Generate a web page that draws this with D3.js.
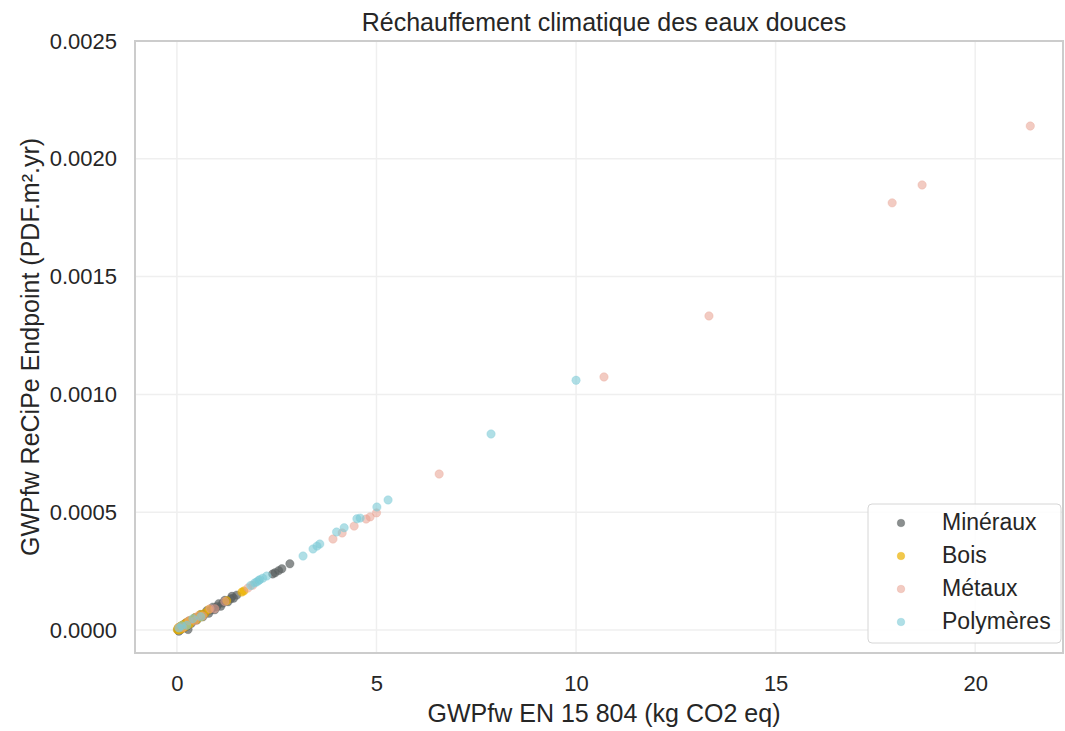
<!DOCTYPE html>
<html><head><meta charset="utf-8">
<script src="https://cdn.jsdelivr.net/npm/d3@7"></script>
<style>body{margin:0;background:#fff;} svg{display:block;font-family:"Liberation Sans",Arial,sans-serif;}</style>
</head><body>
<svg id="c" width="1065" height="731"></svg>
<script>
const categories = ["Minéraux","Bois","Métaux","Polymères"];
const xTicks = [0,5,10,15,20];
const yTicks = [0,0.0005,0.001,0.0015,0.002,0.0025];
const mineraux = [[0.02,0.0000015],[0.04,0.000006],[0.05,-0.000005],[0.07,0.000006],[0.08,0.000014],[0.10,0.0000015],[0.12,0.000011],[0.15,0.000021],[0.18,0.000009],[0.20,0.000019],[0.22,0.000030],[0.25,0.000016],[0.28,0.000002],[0.28,0.000027],[0.30,0.000038],[0.36,0.000028],[0.40,0.000039],[0.45,0.000052],[0.50,0.000042],[0.55,0.000055],[0.60,0.000066],[0.65,0.000056],[0.70,0.000069],[0.75,0.000082],[0.80,0.000071],[0.85,0.000085],[0.90,0.000097],[0.95,0.000086],[1.00,0.000099],[1.05,0.000112],[1.10,0.000101],[1.15,0.000114],[1.20,0.000126],[1.28,0.000120],[1.35,0.000133],[1.38,0.000143],[1.42,0.000135],[1.50,0.000148],[2.40,0.000238],[2.46,0.000243],[2.55,0.000252],[2.63,0.000260],[2.83,0.000281]];
const bois = [[0.01,0.000001],[0.03,0.000010],[0.05,0.000000],[0.08,0.000014],[0.10,0.000003],[0.12,0.000019],[0.15,0.000008],[0.18,0.000024],[0.20,0.000013],[0.22,0.000023],[0.25,0.000033],[0.28,0.000022],[0.30,0.000036],[0.33,0.000028],[0.35,0.000042],[0.40,0.000041],[0.45,0.000052],[0.50,0.000044],[0.58,0.000065],[0.62,0.000056],[0.70,0.000071],[0.80,0.000087],[1.25,0.000124],[1.63,0.000161],[1.68,0.000166]];
const metaux = [[0.05,0.000011],[0.15,0.000010],[0.30,0.000039],[0.45,0.000039],[0.53,0.000060],[0.65,0.000060],[0.83,0.000090],[0.95,0.000090],[1.20,0.000121],[1.78,0.000178],[1.90,0.000190],[3.91,0.000386],[4.14,0.000412],[4.44,0.000441],[4.74,0.000471],[4.84,0.000480],[5.00,0.000497],[6.57,0.000662],[10.70,0.001074],[13.33,0.001333],[17.92,0.001813],[18.67,0.001889],[21.38,0.002139]];
const polymeres = [[0.05,0.000008],[0.12,0.000018],[0.25,0.000020],[0.40,0.000048],[0.60,0.000056],[1.85,0.000189],[1.95,0.000200],[2.00,0.000204],[2.05,0.000210],[2.08,0.000214],[2.15,0.000220],[2.25,0.000229],[3.16,0.000314],[3.41,0.000344],[3.51,0.000356],[3.58,0.000365],[4.00,0.000416],[4.19,0.000434],[4.51,0.000472],[4.59,0.000475],[5.01,0.000522],[5.29,0.000552],[7.87,0.000832],[10.00,0.001060]];
const seriesData = [mineraux, bois, metaux, polymeres];
const colors = ["#5a5f5f","#ebb000","#e8a090","#7ccad6"];
const opac = [0.7,0.7,0.55,0.6];

const svg = d3.select("#c");
const L=135, R=1063, T=41, B=653;
const x = d3.scaleLinear().domain([-1.05,22.2]).range([L,R]);
const y = d3.scaleLinear().domain([-0.0000976,0.0025]).range([B,T]);
const FONT = "Liberation Sans, Arial, sans-serif";

// grid
svg.append("g").selectAll("line").data(xTicks).join("line")
  .attr("x1",d=>x(d)).attr("x2",d=>x(d)).attr("y1",T).attr("y2",B)
  .attr("stroke","#efefef").attr("stroke-width",1.5);
svg.append("g").selectAll("line").data(yTicks).join("line")
  .attr("y1",d=>y(d)).attr("y2",d=>y(d)).attr("x1",L).attr("x2",R)
  .attr("stroke","#efefef").attr("stroke-width",1.5);

// axes (labels only)
const xa = svg.append("g").attr("transform",`translate(0,${B})`)
  .call(d3.axisBottom(x).tickValues(xTicks).tickSize(0).tickPadding(22).tickFormat(d3.format("d")));
xa.select(".domain").remove();
xa.selectAll("text").attr("font-size",22).attr("fill","#262626").attr("font-family",FONT);
const ya = svg.append("g").attr("transform",`translate(${L},0)`)
  .call(d3.axisLeft(y).tickValues(yTicks).tickSize(0).tickPadding(18).tickFormat(d3.format(".4f")));
ya.select(".domain").remove();
ya.selectAll("text").attr("font-size",22).attr("fill","#262626").attr("font-family",FONT);

// points
seriesData.forEach((s,i)=>{
  svg.append("g").selectAll("circle").data(s).join("circle")
    .attr("cx",d=>x(d[0])).attr("cy",d=>y(d[1])).attr("r",4.2)
    .attr("fill",colors[i]).attr("fill-opacity",opac[i])
    .attr("stroke",colors[i]).attr("stroke-opacity",0.3).attr("stroke-width",1);
});

// spines
svg.append("rect").attr("x",L).attr("y",T).attr("width",R-L).attr("height",B-T)
  .attr("fill","none").attr("stroke","#cccccc").attr("stroke-width",2);

// title and labels
svg.append("text").attr("x",604).attr("y",31).attr("text-anchor","middle")
  .attr("font-size",25).attr("fill","#262626").text("Réchauffement climatique des eaux douces");
svg.append("text").attr("x",604).attr("y",722).attr("text-anchor","middle")
  .attr("font-size",25).attr("fill","#262626").text("GWPfw EN 15 804 (kg CO2 eq)");
svg.append("text").attr("transform",`translate(39,${(T+B)/2}) rotate(-90)`).attr("text-anchor","middle")
  .attr("font-size",25).attr("fill","#262626").text("GWPfw ReCiPe Endpoint (PDF.m².yr)");

// legend
const lg = svg.append("g");
lg.append("rect").attr("x",868).attr("y",504).attr("width",193).attr("height",139).attr("rx",4)
  .attr("fill","#fff").attr("fill-opacity",0.85).attr("stroke","#d6d6d6").attr("stroke-width",1);
categories.forEach((c,i)=>{
  const yy = 522 + i*33;
  lg.append("circle").attr("cx",901).attr("cy",yy+1).attr("r",3.8)
    .attr("fill",colors[i]).attr("fill-opacity",opac[i]).attr("stroke",colors[i]).attr("stroke-opacity",0.3);
  lg.append("text").attr("x",942).attr("y",yy+8).attr("font-size",23).attr("fill","#262626").text(c);
});
</script>
</body></html>
